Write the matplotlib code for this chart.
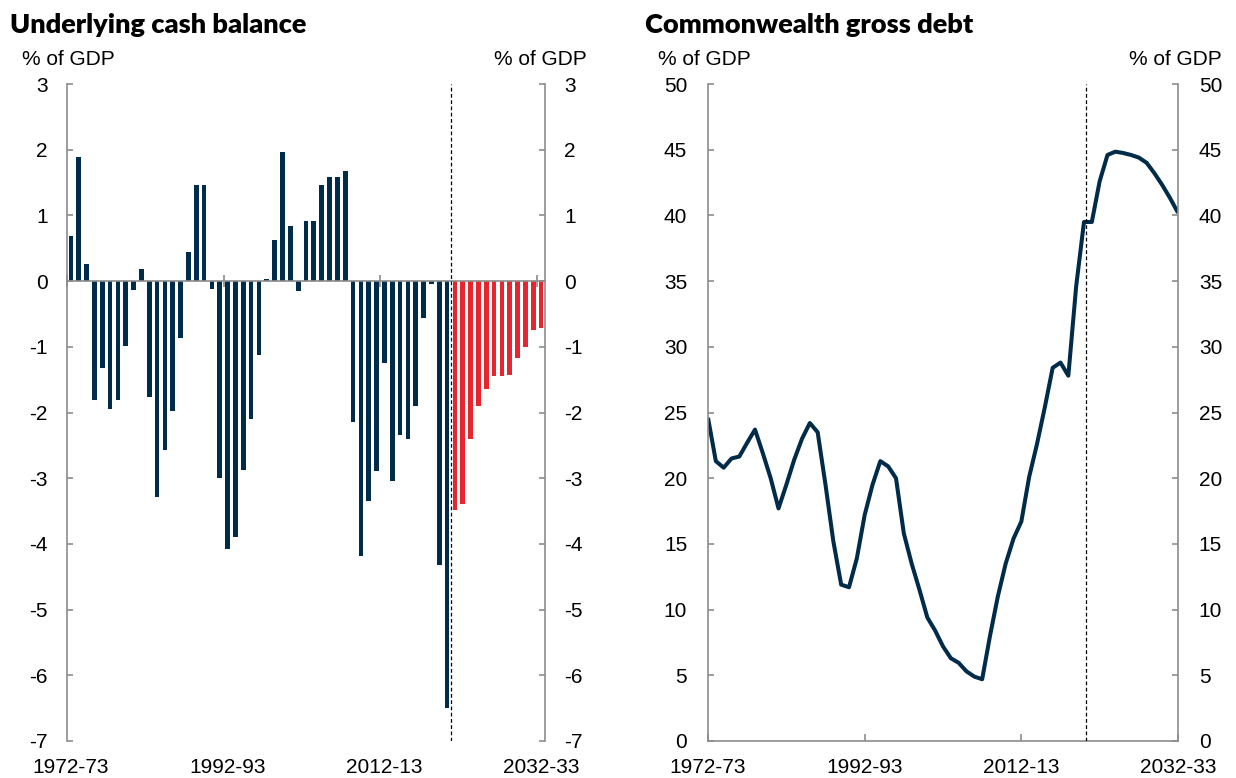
import numpy as np
import matplotlib
matplotlib.use("Agg")
import matplotlib.pyplot as plt

plt.rcParams["font.family"] = ["Liberation Sans", "DejaVu Sans"]
plt.rcParams["axes.unicode_minus"] = False

# === Data (% of GDP), financial years 1972-73 to 2032-33 ===
years = [f"{y}-{str(y + 1)[-2:]}" for y in range(1972, 2033)]
tick_labels = ["1972-73", "1992-93", "2012-13", "2032-33"]
first_projection = "2021-22"

cash_balance = [
    0.69, 1.89, 0.26, -1.81, -1.32, -1.94, -1.81, -0.99, -0.14, 0.19,
    -1.77, -3.28, -2.57, -1.98, -0.86, 0.45, 1.47, 1.47, -0.12, -3.00,
    -4.08, -3.89, -2.87, -2.10, -1.12, 0.03, 0.62, 1.96, 0.84, -0.15,
    0.92, 0.92, 1.47, 1.58, 1.58, 1.67, -2.15, -4.19, -3.35, -2.89,
    -1.24, -3.04, -2.35, -2.41, -1.90, -0.56, -0.04, -4.32, -6.50, -3.49,
    -3.39, -2.41, -1.90, -1.64, -1.45, -1.45, -1.43, -1.17, -1.00, -0.75,
    -0.71,
]

gross_debt = [
    24.6, 21.3, 20.8, 21.5, 21.65, 22.7, 23.7, 21.9, 20.0, 17.7,
    19.5, 21.4, 23.0, 24.2, 23.5, 19.5, 15.2, 11.9, 11.7, 13.9,
    17.2, 19.5, 21.3, 20.9, 20.0, 15.8, 13.5, 11.5, 9.4, 8.4,
    7.2, 6.3, 5.95, 5.3, 4.9, 4.7, 8.0, 11.0, 13.5, 15.4,
    16.7, 20.1, 22.6, 25.4, 28.4, 28.8, 27.8, 34.6, 39.5, 39.5,
    42.6, 44.6, 44.85, 44.75, 44.6, 44.4, 44.0, 43.2, 42.3, 41.3,
    40.2,
]

navy = "#002B49"
red = "#E8252D"
grey = "#8C8C8C"

x = np.arange(len(years))
proj = years.index(first_projection)
tick_pos = [years.index(t) for t in tick_labels]
bar_colors = [navy if i < proj else red for i in x]

W, H = 1236, 778
fig = plt.figure(figsize=(W / 100, H / 100), dpi=100)

# === Left panel: underlying cash balance ===
ax1 = fig.add_axes([67 / W, 1 - 741 / H, 478 / W, 657 / H])
ax1.bar(x, cash_balance, width=0.6, color=bar_colors, zorder=1)
ax1.set_xlim(-0.5, len(years) - 0.5)
ax1.set_ylim(-7, 3)
ax1.set_yticks(range(-7, 4))
ax1.axvline(proj - 0.5, color="black", lw=0.9, ls=(0, (3, 2)), zorder=3)

ax1.spines["top"].set_visible(False)
ax1.spines["bottom"].set_position(("data", 0))
for s in ["left", "right", "bottom"]:
    ax1.spines[s].set_color(grey)
    ax1.spines[s].set_linewidth(1.2)

# tick marks sit on the zero line, between categories
ax1.set_xticks([p - 0.5 for p in tick_pos])
ax1.tick_params(axis="x", direction="inout", length=8, width=1.2,
                color=grey, labelbottom=False)
ax1.tick_params(axis="y", direction="in", length=4, width=1.2, color=grey,
                labelsize=15, left=True, right=True,
                labelleft=True, labelright=True, pad=14)

# category labels along the bottom of the panel
sec = ax1.secondary_xaxis("bottom")
sec.set_xticks(tick_pos, tick_labels)
sec.tick_params(length=0, labelsize=15, pad=12)
sec.spines["bottom"].set_visible(False)

# === Right panel: gross debt ===
ax2 = fig.add_axes([708 / W, 1 - 741 / H, 470 / W, 657 / H])
ax2.plot(x, gross_debt, color=navy, lw=2.9, solid_joinstyle="round",
         solid_capstyle="butt")
ax2.set_xlim(0, len(years) - 1)
ax2.set_ylim(0, 50)
ax2.set_yticks(range(0, 51, 5))
ax2.axvline(proj - 0.8, color="black", lw=0.9, ls=(0, (3, 2)), zorder=3)

ax2.spines["top"].set_visible(False)
for s in ["left", "right", "bottom"]:
    ax2.spines[s].set_color(grey)
    ax2.spines[s].set_linewidth(1.2)
ax2.set_xticks(tick_pos, tick_labels)
ax2.tick_params(axis="x", direction="in", length=5, width=1.2, color=grey,
                labelsize=15, pad=12)
ax2.tick_params(axis="y", direction="in", length=4, width=1.2, color=grey,
                labelsize=15, left=True, right=True,
                labelleft=True, labelright=True, pad=15)

# === Titles and unit labels ===
title_font = dict(family=["Lato", "DejaVu Sans"], fontweight="heavy",
                  fontsize=19.5, va="baseline", ha="left")
fig.text(10 / W, 1 - 33 / H, "Underlying cash balance", **title_font)
fig.text(645 / W, 1 - 33 / H, "Commonwealth gross debt", **title_font)

for cx in [68, 540, 704, 1175]:
    fig.text(cx / W, 1 - 65 / H, "% of GDP", fontsize=15,
             ha="center", va="baseline")

fig.savefig("out.png", dpi=100)
